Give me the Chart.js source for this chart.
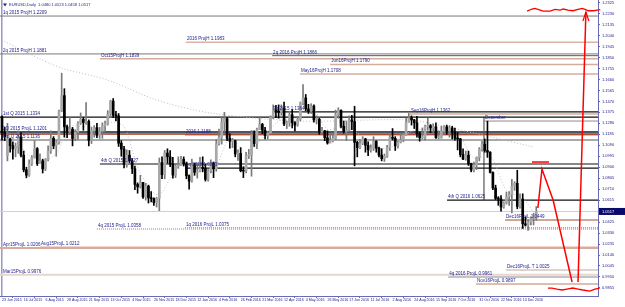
<!DOCTYPE html>
<html>
<head>
<meta charset="utf-8">
<script src="https://cdn.jsdelivr.net/npm/chart.js@4.4.1/dist/chart.umd.min.js"></script>
<style>
html, body { margin: 0; padding: 0; background: #fff; }
</style>
</head>
<body>
<canvas id="chart" width="625" height="307"></canvas>
<script>
// EURUSD daily, drawn as 2-day candles (bar index 0 = 23 Jun 2015)
var open = [1.1335,1.1200,1.1000,1.1145,1.1087,1.1058,1.1081,1.1163,1.1004,1.0878,1.0831,1.0930,1.0984,1.1061,1.0931,1.0955,1.0885,1.0967,1.1041,1.1150,1.1085,1.1114,1.1385,1.1520,1.1250,1.1211,1.1230,1.1149,1.1205,1.1282,1.1315,1.1287,1.1297,1.1134,1.1216,1.1242,1.1177,1.1212,1.1261,1.1276,1.1361,1.1473,1.1350,1.1344,1.1108,1.1057,1.0924,1.1004,1.0956,1.0887,1.0751,1.0730,1.0768,1.0644,1.0736,1.0634,1.0628,1.0593,1.0632,1.0940,1.0835,1.1023,1.0990,1.0928,1.0832,1.0909,1.0918,1.0968,1.0929,1.0826,1.0780,1.0920,1.0856,1.0865,1.0891,1.0889,1.0795,1.0868,1.0937,1.0886,1.1104,1.1157,1.1290,1.1320,1.1150,1.1125,1.1130,1.1015,1.1020,1.0870,1.0866,1.1000,1.1005,1.1180,1.1105,1.1225,1.1270,1.1220,1.1175,1.1195,1.1335,1.1390,1.1385,1.1375,1.1410,1.1275,1.1285,1.1355,1.1285,1.1265,1.1315,1.1455,1.1500,1.1405,1.1385,1.1430,1.1310,1.1315,1.1205,1.1215,1.1155,1.1110,1.1130,1.1150,1.1355,1.1395,1.1255,1.1210,1.1220,1.1310,1.1295,1.1115,1.1070,1.1105,1.1145,1.1090,1.1050,1.1065,1.1125,1.1065,1.1005,1.0975,1.0995,1.1070,1.1160,1.1150,1.1085,1.1115,1.1135,1.1180,1.1290,1.1325,1.1310,1.1285,1.1190,1.1155,1.1155,1.1255,1.1260,1.1240,1.1250,1.1155,1.1155,1.1210,1.1250,1.1215,1.1240,1.1205,1.1150,1.1145,1.1010,1.0970,1.1005,1.0930,1.0875,1.0920,1.0985,1.1055,1.1100,1.1045,1.1030,1.0855,1.0720,1.0630,1.0625,1.0555,1.0590,1.0645,1.0665,1.0735,1.0760,1.0560,1.0625,1.0410,1.0400,1.0425,1.0455,1.0460];
var high = [1.1345,1.1245,1.1280,1.1150,1.1120,1.1110,1.1215,1.1200,1.1040,1.0900,1.0965,1.1000,1.1130,1.1070,1.1015,1.0970,1.0975,1.1085,1.1215,1.1165,1.1130,1.1395,1.1714,1.1580,1.1265,1.1330,1.1245,1.1225,1.1295,1.1370,1.1330,1.1460,1.1310,1.1245,1.1260,1.1280,1.1245,1.1285,1.1300,1.1390,1.1480,1.1495,1.1385,1.1365,1.1130,1.1080,1.1050,1.1045,1.0975,1.0910,1.0765,1.0830,1.0770,1.0760,1.0745,1.0690,1.0635,1.0640,1.0980,1.0990,1.1045,1.1060,1.1045,1.0985,1.0930,1.0990,1.0995,1.0990,1.0945,1.0835,1.0970,1.0935,1.0935,1.0985,1.0990,1.0925,1.0880,1.0965,1.0945,1.1140,1.1230,1.1340,1.1376,1.1330,1.1190,1.1150,1.1135,1.1050,1.1070,1.0905,1.1030,1.1055,1.1218,1.1215,1.1240,1.1340,1.1280,1.1245,1.1210,1.1345,1.1440,1.1435,1.1440,1.1440,1.1465,1.1300,1.1385,1.1400,1.1295,1.1340,1.1465,1.1616,1.1530,1.1445,1.1450,1.1440,1.1345,1.1325,1.1245,1.1220,1.1215,1.1190,1.1195,1.1395,1.1415,1.1395,1.1300,1.1300,1.1345,1.1350,1.1428,1.1125,1.1140,1.1165,1.1150,1.1120,1.1095,1.1165,1.1130,1.1075,1.1060,1.1015,1.1090,1.1185,1.1235,1.1165,1.1125,1.1185,1.1200,1.1325,1.1366,1.1345,1.1315,1.1340,1.1205,1.1240,1.1265,1.1325,1.1270,1.1275,1.1285,1.1215,1.1255,1.1260,1.1265,1.1260,1.1255,1.1240,1.1200,1.1150,1.1060,1.1040,1.1040,1.0935,1.0945,1.0990,1.1070,1.1125,1.1145,1.1299,1.1035,1.0860,1.0745,1.0645,1.0655,1.0600,1.0685,1.0690,1.0795,1.0775,1.0874,1.0670,1.0670,1.0470,1.0445,1.0470,1.0500,1.0560];
var low = [1.1135,1.1130,1.0955,1.1030,1.0970,1.0990,1.1020,1.0990,1.0860,1.0808,1.0820,1.0915,1.0980,1.0915,1.0930,1.0850,1.0870,1.0955,1.1020,1.1060,1.0995,1.1100,1.1380,1.1160,1.1155,1.1190,1.1085,1.1130,1.1140,1.1270,1.1220,1.1270,1.1085,1.1105,1.1160,1.1155,1.1150,1.1150,1.1205,1.1265,1.1330,1.1330,1.1300,1.1080,1.0995,1.0895,1.0900,1.0940,1.0845,1.0705,1.0675,1.0720,1.0630,1.0615,1.0590,1.0600,1.0570,1.0555,1.0524,1.0800,1.0800,1.0935,1.0905,1.0805,1.0810,1.0890,1.0915,1.0910,1.0800,1.0710,1.0770,1.0830,1.0805,1.0860,1.0860,1.0780,1.0780,1.0850,1.0810,1.0865,1.1090,1.1100,1.1210,1.1130,1.1065,1.1070,1.0990,1.0960,1.0860,1.0810,1.0850,1.0975,1.0822,1.1080,1.1060,1.1225,1.1190,1.1145,1.1145,1.1190,1.1320,1.1330,1.1325,1.1350,1.1260,1.1235,1.1255,1.1240,1.1215,1.1255,1.1300,1.1440,1.1390,1.1365,1.1365,1.1290,1.1275,1.1185,1.1190,1.1130,1.1100,1.1110,1.1120,1.1140,1.1325,1.1240,1.1195,1.1130,1.1210,1.1225,1.0912,1.0990,1.1060,1.1095,1.1030,1.1000,1.1030,1.1045,1.1030,1.0990,1.0955,1.0950,1.0985,1.1045,1.1135,1.1045,1.1065,1.1110,1.1120,1.1175,1.1290,1.1265,1.1235,1.1160,1.1125,1.1145,1.1135,1.1220,1.1200,1.1205,1.1150,1.1145,1.1150,1.1195,1.1185,1.1160,1.1145,1.1135,1.1050,1.0990,1.0965,1.0960,1.0915,1.0860,1.0860,1.0880,1.0955,1.1040,1.1030,1.0985,1.0850,1.0705,1.0620,1.0570,1.0520,1.0545,1.0580,1.0570,1.0505,1.0700,1.0540,1.0545,1.0370,1.0390,1.0352,1.0400,1.0400,1.0440];
var close = [1.1200,1.1165,1.1145,1.1087,1.1058,1.1081,1.1163,1.1004,1.0878,1.0831,1.0930,1.0984,1.1061,1.0931,1.0955,1.0885,1.0967,1.1041,1.1150,1.1085,1.1114,1.1385,1.1520,1.1250,1.1211,1.1230,1.1149,1.1205,1.1282,1.1315,1.1287,1.1297,1.1134,1.1216,1.1242,1.1177,1.1212,1.1261,1.1276,1.1361,1.1473,1.1350,1.1344,1.1108,1.1057,1.0924,1.1004,1.0956,1.0887,1.0751,1.0730,1.0768,1.0644,1.0736,1.0634,1.0628,1.0593,1.0632,1.0940,1.0835,1.1023,1.0990,1.0928,1.0832,1.0909,1.0918,1.0968,1.0929,1.0826,1.0780,1.0920,1.0856,1.0865,1.0891,1.0889,1.0795,1.0868,1.0937,1.0886,1.1104,1.1157,1.1290,1.1320,1.1150,1.1125,1.1130,1.1015,1.1020,1.0870,1.0866,1.1000,1.1005,1.1180,1.1105,1.1225,1.1270,1.1220,1.1175,1.1195,1.1335,1.1390,1.1385,1.1375,1.1410,1.1275,1.1285,1.1355,1.1285,1.1265,1.1315,1.1455,1.1500,1.1405,1.1385,1.1430,1.1310,1.1315,1.1205,1.1215,1.1155,1.1110,1.1130,1.1150,1.1355,1.1395,1.1255,1.1210,1.1220,1.1310,1.1295,1.1115,1.1070,1.1105,1.1145,1.1090,1.1050,1.1065,1.1125,1.1065,1.1005,1.0975,1.0995,1.1070,1.1160,1.1150,1.1085,1.1115,1.1135,1.1180,1.1290,1.1325,1.1310,1.1285,1.1190,1.1155,1.1155,1.1255,1.1260,1.1240,1.1250,1.1155,1.1155,1.1210,1.1250,1.1215,1.1240,1.1205,1.1150,1.1145,1.1010,1.0970,1.1005,1.0930,1.0875,1.0920,1.0985,1.1055,1.1100,1.1045,1.1030,1.0855,1.0720,1.0630,1.0625,1.0555,1.0590,1.0645,1.0665,1.0735,1.0760,1.0560,1.0625,1.0410,1.0400,1.0425,1.0455,1.0460,1.0517];

var dateLabels = ['23 Jun 2015','16 Jul 2015','6 Aug 2015','28 Aug 2015','21 Sep 2015','13 Oct 2015','4 Nov 2015','26 Nov 2015','18 Dec 2015','12 Jan 2016','4 Feb 2016','26 Feb 2016','21 Mar 2016','12 Apr 2016','4 May 2016','26 May 2016','17 Jun 2016','11 Jul 2016','2 Aug 2016','24 Aug 2016','15 Sep 2016','7 Oct 2016','31 Oct 2016','22 Nov 2016','14 Dec 2016'];
var barsPerLabel = 8;

var priceTicks = [0.9855,0.9950,1.0045,1.0140,1.0235,1.0330,1.0425,1.0615,1.0710,1.0805,1.0900,1.0995,1.1090,1.1185,1.1280,1.1375,1.1470,1.1565,1.1660,1.1755,1.1850,1.1945,1.2040,1.2135,1.2230,1.2325];

var header = 'EURUSD,Daily  1.0480 1.0523 1.0458 1.0517';
var lastPrice = 1.0517;

// horizontal levels: text, price, first bar
var levelText = ['1q 2015 ProjH 1.2209','2016 ProjH 1.1983','2q 2015 ProjH 1.1881','2q 2016 ProjH 1.1866','Oct15ProjH 1.1839','Jun16ProjH 1.1790','May16ProjH 1.1708','Sep16ProjH 1.1362','3q 2015 1.1364','1st Q 2015 1.1334','December','2Q 2015 ProjL 1.1201','','2016 1.1188','3rd Q 2015 1.1136','4th Q 2015 1.0927','1q 2016 1.0893','4th Q 2016 1.0625','','Dec16ProjL 1.0449','1q 2016 ProjL 1.0375','4q 2015 ProjL 1.0358','Apr15ProjL 1.0206','Aug15ProjL 1.0212','Dec16ProjL T 1.0025','Mar15ProjL 0.9976','4q 2016 ProjL 0.9961','Nov16ProjL 0.9897'];
var levelValue = [1.2209,1.1983,1.1881,1.1866,1.1839,1.1790,1.1708,1.1360,1.1380,1.1334,1.1300,1.1205,1.1187,1.1180,1.1135,1.0928,1.0893,1.0616,1.0517,1.0443,1.0376,1.0365,1.0200,1.0206,1.0010,0.9969,0.9949,0.9889];
var levelFrom = [-0.74,67.8,-0.74,99.6,36.1,121,109.9,150.4,99.6,-0.74,177.7,-0.74,-0.74,67.5,-0.74,36.1,67.5,164.1,-0.74,185.5,67.5,35,-0.74,14,185.8,-0.74,164.5,174.8];

var levelColor = ['#7a7a7a','#dcb4a4','#7a7a7a','#5a5a70','#d4ac9c','#d4ac9c','#d4ac9c','#d4ac9c','#111','#111','#8c8c8c','#4a5868','#a03a1a','#d04020','#8c8c8c','#111','#111','#111','#cfcfcf','#c08a70','#ff5050','#ff5050','#d8ac9c','#d8ac9c','#ddd3d0','#e6d6ce','#c4c4c4','#d0a898'];
var levelWidth = [1,1.5,1,1,1.5,1.5,1.5,1.5,1.2,1.2,1,2,1.5,1,1.5,1.2,1.2,1.2,1,1.5,1,1,2,2,2,2,2,1.5];
var levelDotted = [20,21];

// moving averages (dotted), read at a few bars
var maLongBar = [0,11,22,39,57,77,110,150,166,196];
var maLongVal = [1.2001,1.1871,1.1759,1.1655,1.1482,1.1369,1.1300,1.1309,1.1239,1.1075];
var maShortBar = [0,5,10,15,20,25,30,35,40,45,50,55,58,62,66,72,78,84,90,96,102,108,114,120,126,132,138,144,150,156,162,168,174,180,186,192,197];
var maShortVal = [1.1200,1.1130,1.1000,1.0960,1.1020,1.1250,1.1250,1.1260,1.1290,1.1250,1.0900,1.0700,1.0660,1.0800,1.0920,1.0880,1.0870,1.1150,1.1030,1.1150,1.1300,1.1320,1.1420,1.1230,1.1250,1.1180,1.1070,1.1080,1.1200,1.1230,1.1210,1.1190,1.0980,1.1000,1.0700,1.0630,1.0480];

// hand-drawn red projection
var zigBar = [197.6,199.1,203.2,210.2];
var zigVal = [1.0547,1.0884,1.0616,0.9906];
var upBar = [212.4,215.3];
var upVal = [0.9906,1.2244];
var arrowBar = [214.2,215.3,216.4];
var arrowVal = [1.2166,1.2244,1.2166];
var markBar = [195.4,201.7];
var markVal = [1.0945,1.0945];
var topWaveBar = [193.6,195.4,196.5,197.6,199.5,202.1,203.9,205.8,206.9,208.7,210.6,212.4,213.9,215.0,216.2,218.0,219.5,220.6];
var topWaveVal = [1.2252,1.2270,1.2276,1.2267,1.2252,1.2252,1.2267,1.2261,1.2270,1.2261,1.2255,1.2267,1.2276,1.2267,1.2255,1.2255,1.2261,1.2264];
var lowWaveBar = [201.3,202.8,204.6,206.5,208.3,210.5,212.4,214.2,216.8,218.6,220.4,221.6,223.1];
var lowWaveVal = [0.9854,0.9854,0.9845,0.9837,0.9845,0.9854,0.9845,0.9837,0.9828,0.9845,0.9854,0.9845,0.9837];

var xMin = -0.74, xMax = 219.76;
var yMin = 0.9785, yMax = 1.2348;

function pts(bars, vals) {
    return bars.map(function (b, i) { return { x: b, y: vals[i] }; });
}

var datasets = [];

// candles: wicks + bodies as floating bars
var bull = close.map(function (c, i) { return c >= open[i]; });
datasets.push({
    type: 'bar', order: 2, grouped: false, barThickness: 1,
    data: low.map(function (l, i) { return { x: i, y: [l, high[i]] }; }),
    backgroundColor: bull.map(function (b) { return b ? '#7a7a7a' : '#000'; })
});
datasets.push({
    type: 'bar', order: 1, grouped: false, barThickness: 2, minBarLength: 1,
    data: open.map(function (o, i) { return { x: i, y: [o, close[i]] }; }),
    backgroundColor: bull.map(function (b) { return b ? '#a8a8a8' : '#000'; })
});

// level lines
levelValue.forEach(function (v, i) {
    datasets.push({
        type: 'line', order: 5,
        data: [{ x: levelFrom[i], y: v }, { x: xMax, y: v }],
        borderColor: levelColor[i], borderWidth: levelWidth[i],
        borderDash: levelDotted.indexOf(i) >= 0 ? [1, 1] : [],
        pointRadius: 0
    });
});

// vertical markers
datasets.push({ type: 'line', order: 5, data: [{ x: 177.7, y: 1.1334 }, { x: 177.7, y: 1.0616 }],
    borderColor: '#8c8c8c', borderWidth: 1, pointRadius: 0 });
datasets.push({ type: 'line', order: 5, data: [{ x: -0.1, y: yMax }, { x: -0.1, y: yMin }],
    borderColor: '#9a9ac8', borderWidth: 1, pointRadius: 0 });

// moving averages
datasets.push({ type: 'line', order: 4, data: pts(maLongBar, maLongVal), borderColor: '#bdbdbd',
    borderWidth: 1, borderDash: [1, 2], pointRadius: 0, tension: 0.3 });
datasets.push({ type: 'line', order: 4, data: pts(maShortBar, maShortVal), borderColor: '#c4c4c4',
    borderWidth: 1, borderDash: [1, 2], pointRadius: 0, tension: 0.3 });

// red drawing
[[zigBar, zigVal, 1.5], [upBar, upVal, 1.5], [arrowBar, arrowVal, 1.2], [markBar, markVal, 1.5],
 [topWaveBar, topWaveVal, 1.3], [lowWaveBar, lowWaveVal, 1.3]].forEach(function (p) {
    datasets.push({ type: 'line', order: 0, data: pts(p[0], p[1]), borderColor: '#ff0000',
        borderWidth: p[2], pointRadius: 0, clip: false, tension: 0 });
});

var overlay = {
    id: 'overlay',
    afterDatasetsDraw: function (chart) {
        var ctx = chart.ctx, x = chart.scales.x, y = chart.scales.y;
        ctx.save();
        ctx.font = '4.5px "Liberation Sans", Arial, sans-serif';
        ctx.fillStyle = '#23238c';
        ctx.textBaseline = 'bottom';
        levelText.forEach(function (t, i) {
            if (!t) return;
            ctx.fillText(t, x.getPixelForValue(Math.max(levelFrom[i], xMin + 0.7)) + 1,
                y.getPixelForValue(levelValue[i]) - 1);
        });
        // header
        ctx.font = '4px "Liberation Sans", Arial, sans-serif';
        ctx.textBaseline = 'middle';
        ctx.fillText(header, 9, 5);
        ctx.beginPath();
        ctx.moveTo(3, 3.5); ctx.lineTo(7, 3.5); ctx.lineTo(5, 6.5); ctx.closePath();
        ctx.fill();
        // last price tag
        var py = y.getPixelForValue(lastPrice);
        ctx.fillStyle = '#0a0a6e';
        ctx.fillRect(chart.chartArea.right + 1, py - 3.5, 26, 7);
        ctx.fillStyle = '#fff';
        ctx.fillText(lastPrice.toFixed(4), chart.chartArea.right + 4, py + 0.3);
        ctx.restore();
    }
};

new Chart(document.getElementById('chart'), {
    type: 'bar',
    data: { datasets: datasets },
    options: {
        responsive: false,
        animation: false,
        events: [],
        layout: { padding: 0 },
        plugins: { legend: { display: false }, tooltip: { enabled: false } },
        scales: {
            x: {
                type: 'linear', min: xMin, max: xMax, offset: false,
                afterBuildTicks: function (s) {
                    s.ticks = dateLabels.map(function (d, i) { return { value: i * barsPerLabel }; });
                },
                ticks: {
                    autoSkip: false, maxRotation: 0, align: 'start', padding: 0,
                    color: '#23238c', font: { size: 3.6, family: 'Liberation Sans' },
                    callback: function (v, i) { return dateLabels[i]; }
                },
                grid: { drawOnChartArea: false, drawTicks: true, tickLength: 2, color: '#6a6ab4' },
                border: { display: true, color: '#6a6ab4' },
                afterFit: function (s) { s.height = 11; s.paddingLeft = 0; s.paddingRight = 0; }
            },
            y: {
                position: 'right', min: yMin, max: yMax,
                afterBuildTicks: function (s) {
                    s.ticks = priceTicks.map(function (v) { return { value: v }; });
                },
                ticks: {
                    autoSkip: false, padding: 2, color: '#23238c',
                    font: { size: 4, family: 'Liberation Sans' },
                    callback: function (v) { return v.toFixed(4); }
                },
                grid: { drawOnChartArea: false, drawTicks: true, tickLength: 2, color: '#6a6ab4' },
                border: { display: true, color: '#6a6ab4' },
                afterFit: function (s) { s.width = 27; s.paddingTop = 0; s.paddingBottom = 0; }
            }
        }
    },
    plugins: [overlay]
});
</script>
</body>
</html>
